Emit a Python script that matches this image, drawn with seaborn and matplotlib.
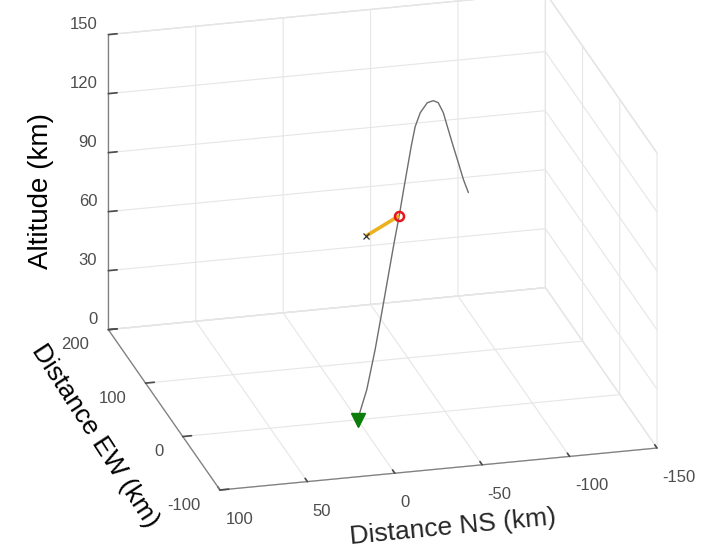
import numpy as np
import pandas as pd
import matplotlib
matplotlib.use("Agg")
import matplotlib.pyplot as plt
import seaborn as sns
from mpl_toolkits.mplot3d import proj3d

# ---------------- data ----------------
ns_km = [0.0, -8.7, -16.6, -24.5, -33.4, -35.6, -39.4, -43.1, -46.9, -50.7, -54.5,
         -59.3, -65.9, -71.6, -76.3, -81.1, -85.8, -90.6, -95.3, -100.1, -104.8]
ew_km = [0.0, 16.2, 30.8, 45.4, 62.0, 66.0, 73.1, 80.1, 87.1, 94.2, 101.2,
         110.0, 122.3, 132.9, 141.7, 150.5, 159.3, 168.1, 176.9, 185.7, 194.5]
alt_km = [0.0, 10.1, 25.9, 45.0, 66.8, 72.1, 80.5, 90.0, 99.5, 108.9, 116.9,
          121.2, 122.3, 120.0, 116.2, 108.3, 96.9, 85.4, 74.5, 63.1, 53.7]

event_ns = [-39.4]
event_ew = [73.1]
event_alt = [80.5]

frag_ns = [-39.4, -14.2]
frag_ew = [73.1, 43.5]
frag_alt = [80.5, 80.5]

ground_ns = [0.0]
ground_ew = [0.0]
ground_alt = [0.0]

ns_ticks = [100, 50, 0, -50, -100, -150]
ew_ticks = [-100, 0, 100, 200]
alt_ticks = [0, 30, 60, 90, 120, 150]

traj = pd.DataFrame({"ns": ns_km, "ew": ew_km, "alt": alt_km})

# ---------------- style ----------------
sns.set_theme(style="white")
plt.rcParams["font.family"] = ["Liberation Sans", "DejaVu Sans"]
plt.rcParams["axes.unicode_minus"] = False
plt.rcParams["grid.color"] = "#e6e6e6"
plt.rcParams["grid.linewidth"] = 0.8

W, H = 704, 555
fig = plt.figure(figsize=(W / 100, H / 100), dpi=100)
fig.patch.set_facecolor("white")
S0 = 500
ax = fig.add_axes([100 / W, 30 / H, S0 / W, S0 / H], projection="3d", proj_type="ortho")
ax.view_init(elev=21.8, azim=-104.5)
ax.set_box_aspect((1, 0.988, 0.704))

line_grey = "#6e6e6e"
orange = "#EDB120"

ax.plot(traj["ns"], traj["ew"], traj["alt"], color=line_grey, lw=1.0, zorder=3)
ax.plot(frag_ns, frag_ew, frag_alt, color=orange, lw=2.6, solid_capstyle="butt", zorder=4)
ax.plot(frag_ns[1:], frag_ew[1:], frag_alt[1:], ls="none", marker="x", ms=4,
        mew=0.9, color="#333333", zorder=5)
ax.plot(event_ns, event_ew, event_alt, ls="none", marker="o", ms=6.5, mfc="none",
        mec="#e8141c", mew=1.8, zorder=6)
ax.plot(ground_ns, ground_ew, ground_alt, ls="none", marker="v", ms=9.5,
        color="#0a7d0a", zorder=6)

ax.set_xlim(100, -150)
ax.set_ylim(-100, 200)
ax.set_zlim(0, 150)
ax.set_xticks(ns_ticks)
ax.set_yticks(ew_ticks)
ax.set_zticks(alt_ticks)

for axis in (ax.xaxis, ax.yaxis, ax.zaxis):
    axis.set_pane_color((1, 1, 1, 1))
    axis.pane.set_edgecolor("#e0e0e0")
    axis.line.set_color("#808080")
    axis.line.set_linewidth(0.9)
    axis._axinfo["grid"].update(color="#e6e6e6", linewidth=0.8)
    axis._axinfo["tick"]["inward_factor"] = 0.0
    axis._axinfo["tick"]["outward_factor"] = 0.25
for a in ("x", "y", "z"):
    ax.tick_params(axis=a, labelsize=12, colors="#4d4d4d", width=0.8)
ax.tick_params(axis="z", pad=-2.8)
ax.tick_params(axis="x", pad=4.5)

ax.set_xlabel("Distance NS (km)", fontsize=19, labelpad=12)
ax.grid(True)

# ---------------- fit the projected box to the reference frame ----------------
fig.canvas.draw()

def to_px(x, y, z):
    px, py, _ = proj3d.proj_transform(x, y, z, ax.M)
    return np.array(ax.transData.transform((px, py)))

p_front = to_px(100, -100, 0)
p_right = to_px(-150, -100, 0)
t_front = np.array([220.0, H - 490.0])
t_right = np.array([657.0, H - 448.0])
k = np.linalg.norm(t_right - t_front) / np.linalg.norm(p_right - p_front)
bb = ax.get_position()
origin = np.array([bb.x0 * W, bb.y0 * H])
side = bb.width * W
f0 = (p_front - origin) / side
new_side = side * k
new_origin = t_front - new_side * f0
ax.set_position([new_origin[0] / W, new_origin[1] / H, new_side / W, new_side / H])

# tick-label alignment like the reference
for lab in ax.get_xticklabels():
    lab.set_horizontalalignment("left")
for lab in ax.get_yticklabels():
    lab.set_horizontalalignment("right")
    lab.set_verticalalignment("center")
for lab in ax.get_zticklabels():
    lab.set_horizontalalignment("right")
    lab.set_verticalalignment("bottom")

# axis titles that run along the EW edge and the vertical edge
fig.text(95 / W, 1 - 436 / H, "Distance EW (km)", fontsize=19, rotation=-57,
         rotation_mode="anchor", ha="center", va="center", color="black")
fig.text(41 / W, 1 - 191 / H, "Altitude (km)", fontsize=20, rotation=90,
         rotation_mode="anchor", ha="center", va="center", color="black")

fig.savefig("out.png", dpi=100, facecolor="white")
